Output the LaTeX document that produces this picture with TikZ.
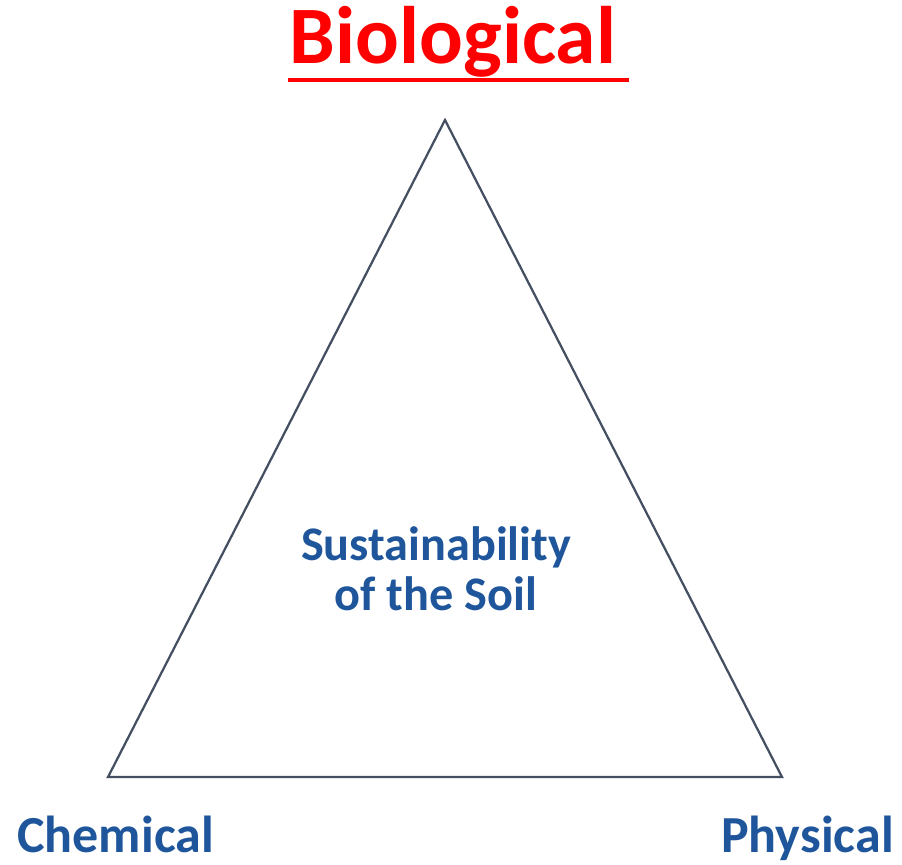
\documentclass[tikz,border=0pt]{standalone}
\usepackage{fontspec}
\setmainfont{Carlito}
\definecolor{soilred}{RGB}{255,0,0}
\definecolor{soilblue}{RGB}{31,86,155}
\definecolor{edgegray}{RGB}{68,80,98}
\tikzset{
  corner/.style={font=\bfseries\fontsize{37}{44}\selectfont, text=soilblue, inner sep=0pt},
}
\begin{document}
\begin{tikzpicture}[x=0.025cm, y=-0.025cm]
  \useasboundingbox (0,0) rectangle (902,864);

  % corners of the triangle
  \coordinate (top) at (445,120);
  \coordinate (left) at (108,777);
  \coordinate (right) at (782,777);
  \draw [edgegray, line width=1.6pt, line join=miter] (top) -- (left) -- (right) -- cycle;

  % title with its underline
  \node [anchor=base, inner sep=0pt, text=soilred,
         font=\bfseries\fontsize{58}{70}\selectfont] (bio) at (453,63) {Biological};
  \coordinate (ulA) at (288,80);
  \coordinate (ulB) at (629,80);
  \draw [soilred, line width=2.8pt] (ulA) -- (ulB);

  \node [corner, anchor=base west] (chem) at (17,852) {Chemical};
  \node [corner, anchor=base east] (phys) at (894,852) {Physical};

  \node [anchor=base, inner sep=0pt, text=soilblue, align=center,
         font=\bfseries\fontsize{34.3}{35.4}\selectfont] (soil) at (436,610)
        {Sustainability\\of the Soil};
\end{tikzpicture}
\end{document}
